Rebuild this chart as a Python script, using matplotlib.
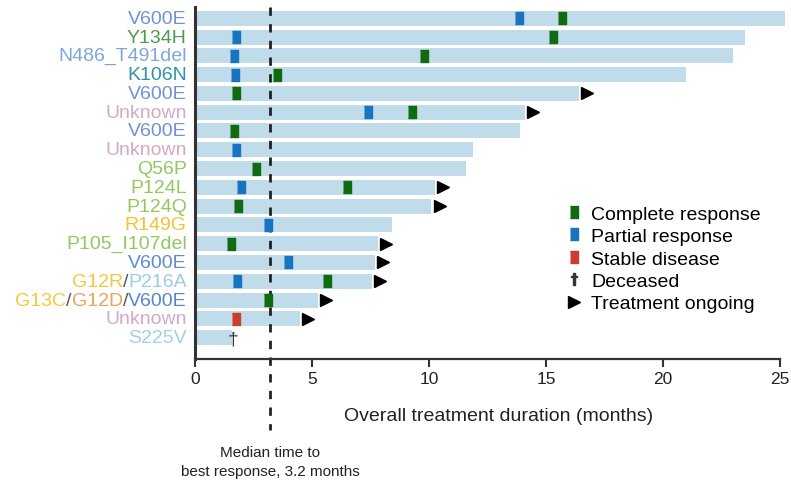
#!/usr/bin/env python3

"""
Swimmer plot: treatment duration and best response per patient
"""

import matplotlib
matplotlib.use("Agg")
import matplotlib.pyplot as plt
from matplotlib.lines import Line2D

plt.rcParams["font.family"] = ["Liberation Sans", "DejaVu Sans"]

# Data

mutations = [
    "V600E", "Y134H", "N486_T491del", "K106N", "V600E", "Unknown",
    "V600E", "Unknown", "Q56P", "P124L", "P124Q", "R149G",
    "P105_I107del", "V600E", "G12R/P216A", "G13C/G12D/V600E",
    "Unknown", "S225V",
]
mutation_colors = [
    ["#6f93d3"], ["#4f9a4f"], ["#7fa6dc"], ["#2f93a8"], ["#6f93d3"], ["#d2aac4"],
    ["#6f93d3"], ["#d2aac4"], ["#92c860"], ["#92c860"], ["#92c860"], ["#f2c230"],
    ["#92c860"], ["#5f8bd0"], ["#f0c840", "#9ccbe5"], ["#f1cb3c", "#eda25a", "#5585cc"],
    ["#d2aac4"], ["#a3cfe6"],
]
durations = [25.2, 23.5, 23.0, 21.0, 16.4, 14.1, 13.9, 11.9, 11.6, 10.25,
             10.1, 8.4, 7.8, 7.7, 7.55, 5.25, 4.5, 1.6]
ongoing = [False, False, False, False, True, True, False, False, False, True,
           True, False, True, True, True, True, True, False]

complete_rows = [0, 1, 2, 3, 4, 5, 6, 8, 9, 10, 12, 14, 15]
complete_times = [15.7, 15.3, 9.8, 3.5, 1.75, 9.27, 1.67, 2.6, 6.5, 1.84, 1.54, 5.64, 3.1]
partial_rows = [0, 1, 2, 3, 5, 7, 9, 11, 13, 14]
partial_times = [13.85, 1.75, 1.67, 1.7, 7.4, 1.75, 1.97, 3.1, 3.97, 1.8]
stable_rows = [16]
stable_times = [1.75]
deceased_rows = [17]
deceased_times = [1.62]

median_response = 3.2

bar_color = "#c0dbe9"
green = "#106b10"
blue = "#1874c0"
red = "#c8402c"

# Figure

fig = plt.figure(figsize=(7.91, 4.85), dpi=100)
ax = fig.add_axes([195 / 791, (485 - 360) / 485, 592 / 791, 352 / 485])

rows = list(range(len(durations)))
ax.barh(rows, durations, height=0.8, color=bar_color, clip_on=False, zorder=1)

box = [(-0.75, -1), (0.75, -1), (0.75, 1), (-0.75, 1)]
ms = 8.5
ax.plot(complete_times, complete_rows, ls="none", marker=box, ms=ms, color=green, zorder=3)
ax.plot(partial_times, partial_rows, ls="none", marker=box, ms=ms, color=blue, zorder=3)
ax.plot(stable_times, stable_rows, ls="none", marker=box, ms=ms, color=red, zorder=3)
for r, t in zip(deceased_rows, deceased_times):
    ax.text(t, r + 0.05, "\u2020", ha="center", va="center", fontsize=14, color="#333333", zorder=4)

arrow_x = [d + 0.35 for d, o in zip(durations, ongoing) if o]
arrow_y = [r for r, o in zip(rows, ongoing) if o]
ax.plot(arrow_x, arrow_y, ls="none", marker=">", ms=9, color="black", clip_on=False, zorder=3)

# median line, runs below the axis into the note
ax.plot([median_response, median_response], [-0.6, 21.9], ls=(0, (3, 3)), lw=2,
        color="#222222", clip_on=False, zorder=2)
ax.text(median_response, 23.6, "Median time to\nbest response, 3.2 months", ha="center",
        va="center", fontsize=11, color="#222222", linespacing=1.5)

# left labels, coloured per mutation
for r, (label, colors) in enumerate(zip(mutations, mutation_colors)):
    parts = label.split("/")
    pieces = []
    for k, (p, c) in enumerate(zip(parts, colors)):
        pieces.append((p, c))
        if k < len(parts) - 1:
            pieces.append(("/", "#555555"))
    prev = None
    for text, c in reversed(pieces):
        if prev is None:
            prev = ax.text(-0.35, r, text, ha="right", va="center", fontsize=14,
                           color=c, clip_on=False)
        else:
            prev = ax.annotate(text, xy=(0, 0.5), xycoords=prev, ha="right", va="center",
                               fontsize=14, color=c)

# axes styling
ax.set_xlim(0, 25.3)
ax.set_ylim(18.14, -0.6)
ax.set_yticks([])
ax.set_xticks([0, 5, 10, 15, 20, 25])
ax.tick_params(axis="x", length=6, width=1.5, colors="#333333", labelsize=12.5,
               labelcolor="#222222", pad=3)
for s in ["top", "right"]:
    ax.spines[s].set_visible(False)
ax.spines["left"].set_linewidth(2.2)
ax.spines["left"].set_color("#333333")
ax.spines["bottom"].set_linewidth(1.6)
ax.spines["bottom"].set_color("#333333")
ax.spines["bottom"].set_bounds(0, 25)

ax.set_xlabel("Overall treatment duration (months)", fontsize=14, color="#222222")
ax.xaxis.set_label_coords(0.513, -0.135)

# legend
handles = [
    Line2D([], [], ls="none", marker=box, ms=ms, color=green),
    Line2D([], [], ls="none", marker=box, ms=ms, color=blue),
    Line2D([], [], ls="none", marker=box, ms=ms, color=red),
    Line2D([], [], ls="none", marker="$\u2020$", ms=9, color="#333333"),
    Line2D([], [], ls="none", marker=">", ms=9, color="black"),
]
names = ["Complete response", "Partial response", "Stable disease", "Deceased",
         "Treatment ongoing"]
ax.legend(handles, names, frameon=False, fontsize=14, loc="upper left",
          bbox_to_anchor=((568 - 195) / 592, (360 - 206) / 352), bbox_transform=ax.transAxes,
          handlelength=0.6, handletextpad=0.6, labelspacing=0.25, borderpad=0,
          borderaxespad=0)

fig.savefig("out.png", dpi=100)
